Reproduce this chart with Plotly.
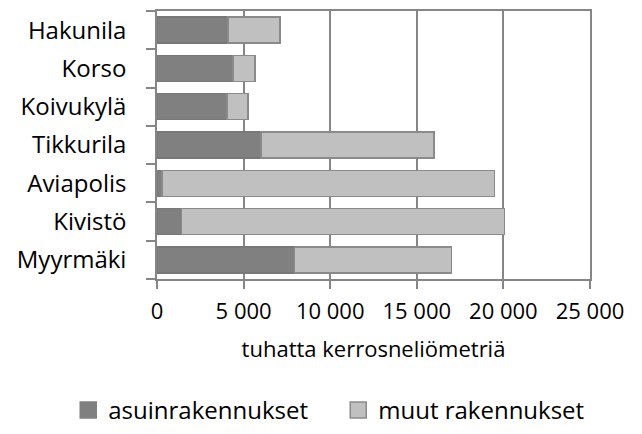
import plotly.graph_objects as go

areas = ["Myyrmäki", "Kivistö", "Aviapolis", "Tikkurila", "Koivukylä", "Korso", "Hakunila"]
asuin = [7950, 1400, 300, 6000, 4050, 4400, 4100]
muut = [9050, 18650, 19200, 10000, 1200, 1250, 3000]
x_ticks = [0, 5000, 10000, 15000, 20000, 25000]
x_labels = ["0", "5 000", "10 000", "15 000", "20 000", "25 000"]
series_names = ["asuinrakennukset", "muut rakennukset"]

grey = "#868686"
dark = "#808080"
light = "#c0c0c0"
font = "Open Sans, Noto Sans, sans-serif"

fig = go.Figure()
fig.add_trace(go.Bar(y=areas, x=asuin, orientation="h", name=series_names[0], showlegend=False,
                     marker=dict(color=dark, line=dict(color="#787878", width=1.5))))
fig.add_trace(go.Bar(y=areas, x=muut, orientation="h", name=series_names[1], showlegend=False,
                     marker=dict(color=light, line=dict(color="#8a8a8a", width=1.5))))

# legend entries with bigger square symbols
for name, col, edge in zip(series_names, [dark, light], ["#808080", "#8a8a8a"]):
    fig.add_trace(go.Scatter(x=[None], y=[None], mode="markers", name=name,
                             marker=dict(symbol="square", size=16, color=col,
                                         line=dict(color=edge, width=1.5))))

# page body has an 8px margin, so figure is 8px smaller
fig.update_layout(
    barmode="stack", bargap=0.32,
    width=634, height=426,
    margin=dict(l=149, r=52, t=1, b=149),
    paper_bgcolor="white", plot_bgcolor="white",
    font=dict(family=font, size=22, color="black"),
    legend=dict(orientation="h", x=-0.205, xanchor="left", y=-0.49, yanchor="middle",
                traceorder="normal", entrywidth=225, font=dict(size=24)),
)
fig.update_xaxes(range=[0, 25000], tickvals=x_ticks, ticktext=x_labels,
                 showgrid=True, gridcolor=grey, gridwidth=1.5,
                 showline=True, linecolor=grey, linewidth=1.5, mirror=True,
                 ticks="outside", ticklen=8, tickcolor=grey, tickwidth=1.5,
                 tickfont=dict(size=22), ticklabelstandoff=4,
                 title=dict(text="tuhatta kerrosneliömetriä", font=dict(size=22), standoff=17),
                 zeroline=False)
fig.update_yaxes(showline=True, linecolor=grey, linewidth=1.5, mirror=True,
                 ticks="outside", ticklen=9, tickcolor=grey, tickwidth=1.5,
                 tickson="boundaries", tickfont=dict(size=24), ticklabelstandoff=24)

fig.write_html("out.html")
